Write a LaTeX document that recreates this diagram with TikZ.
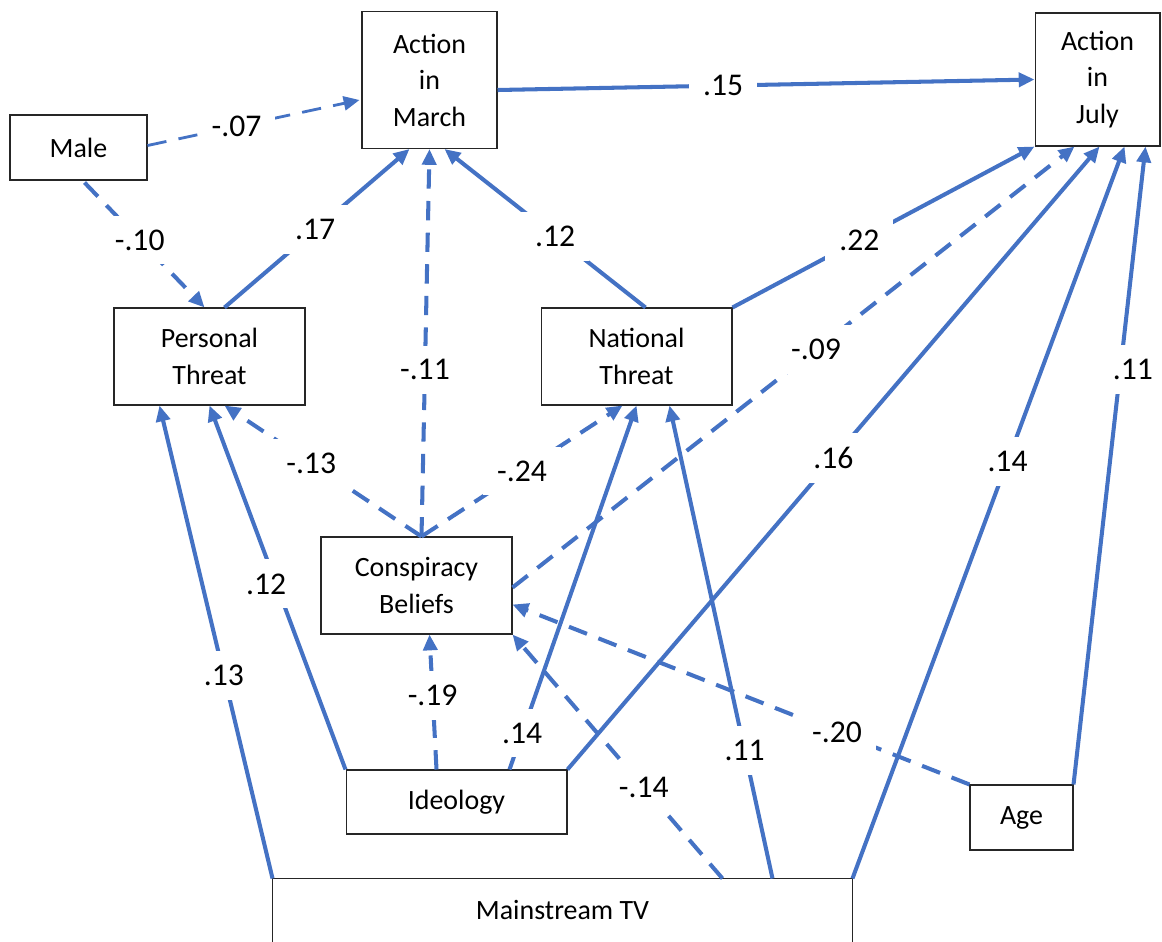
\documentclass[tikz,border=0pt]{standalone}
\usepackage{fontspec}
\setmainfont{Carlito}
\usetikzlibrary{arrows.meta,calc}
\definecolor{effblue}{RGB}{68,114,196}

\begin{document}
\begin{tikzpicture}[x=0.02cm, y=-0.02cm,
    every node/.style={font=\fontsize{15.9}{20.8}\selectfont},
    var/.style={draw=black!85, line width=0.6pt, align=center, inner sep=0pt},
    eff/.style={effblue, line width=2.3pt, -{Triangle[length=9pt,width=8pt]}},
    negeff/.style={eff, dash pattern=on 11pt off 7pt},
    lab/.style={fill=white, text=black, inner sep=8pt, font=\fontsize{18}{20}\selectfont}]
    \useasboundingbox (0,0) rectangle (1162,941);

    % variables
    \node[var, minimum width=2.7cm, minimum height=2.74cm] (March) at (429.5, 80) {Action\\in\\March};
    \node[var, minimum width=2.5cm, minimum height=2.66cm] (July) at (1097.5, 79.5) {Action\\in\\July};
    \node[var, minimum width=2.74cm, minimum height=1.3cm] (Male) at (78.5, 147.5) {Male};
    \node[var, minimum width=3.82cm, minimum height=1.94cm] (Pers) at (209.5, 356.5) {Personal\\Threat};
    \node[var, minimum width=3.82cm, minimum height=1.94cm] (Nat) at (636.5, 356.5) {National\\Threat};
    \node[var, minimum width=3.82cm, minimum height=1.94cm] (Consp) at (416.5, 585.5) {Conspiracy\\Beliefs};
    \node[var, minimum width=4.42cm, minimum height=1.28cm] (Ideo) at (456.5, 802) {Ideology};
    \node[var, minimum width=2.06cm, minimum height=1.3cm] (Age) at (1021.5, 817.5) {Age};
    \node[var, draw=none, minimum width=11.58cm, minimum height=1.24cm] (TV) at (562.5, 910) {Mainstream TV};
    \draw[black!85, line width=0.6pt] ([yshift=-1cm]TV.south west) -- (TV.north west) -- (TV.north east) -- ([yshift=-1cm]TV.south east);

    % paths into Conspiracy Beliefs
    \draw[negeff] ($(Ideo.north)+(-20,0)$) -- node[lab, pos=0.55] (w18) {-.19} ($(Consp.south)+(13,0)$);
    \draw[negeff] ($(TV.north)+(160,0)$) -- node[lab, pos=0.375] (w19) {-.14} (Consp.south east);
    \draw[negeff] (Age.north west) -- node[lab, pos=0.29] (w20) {-.20} ($(Consp.east)+(0,19)$);

    % paths into Action in March
    \draw[negeff, line width=1.6pt] ($(Male.east)+(0,-2)$) -- node[lab, pos=0.42] (w1) {-.07} ($(March.west)+(-2,20)$);
    \draw[eff] ($(Pers.north)+(15,0)$) -- node[lab, pos=0.49] (w2) {.17} ($(March.south)+(-20,0)$);
    \draw[eff] ($(Nat.north)+(9,0)$) -- node[lab, pos=0.45] (w3) {.12} ($(March.south)+(15,0)$);
    \draw[negeff] ($(Consp.north)+(5,0)$) -- node[lab, pos=0.43] (w4) {-.11} (March.south);

    % paths into Action in July
    \draw[eff] ($(March.east)+(0,10)$) -- node[lab, pos=0.42] (w5) {.15} (July.west);
    \draw[eff] (Nat.north east) -- node[lab, pos=0.42] (w6) {.22} (July.south west);
    \draw[negeff] ($(Consp.east)+(0,2)$) -- node[lab, pos=0.54] (w7) {-.09} ($(July.south west)+(40,0)$);
    \draw[eff] (Ideo.north east) -- node[lab, pos=0.5] (w8) {.16} ($(July.south)+(2,0)$);
    \draw[eff] (TV.north east) -- node[lab, pos=0.57] (w9) {.14} ($(July.south)+(27,0)$);
    \draw[eff] (Age.north east) -- node[lab, pos=0.65, xshift=0.25cm] (w10) {.11} ($(July.south east)+(-15,0)$);

    % paths into the threats
    \draw[negeff] ($(Male.south)+(6,2)$) -- node[lab, pos=0.46] (w11) {-.10} ($(Pers.north)+(-5,0)$);
    \draw[negeff] ($(Consp.north)+(5,0)$) -- node[lab, pos=0.56] (w12) {-.13} ($(Pers.south)+(15,0)$);
    \draw[negeff] ($(Consp.north)+(5,0)$) -- node[lab, pos=0.5] (w13) {-.24} ($(Nat.south)+(-14,0)$);
    \draw[eff] (Ideo.north west) -- node[lab, pos=0.51, xshift=-0.2cm] (w14) {.12} (Pers.south);
    \draw[eff] (TV.north west) -- node[lab, pos=0.43] (w15) {.13} ($(Pers.south)+(-50,0)$);
    \draw[eff] ($(Ideo.north)+(53,0)$) -- node[lab, pos=0.1] (w16) {.14} (Nat.south);
    \draw[eff] ($(TV.north)+(210,0)$) -- node[lab, pos=0.27] (w17) {.11} ($(Nat.south)+(33,0)$);
\end{tikzpicture}
\end{document}
